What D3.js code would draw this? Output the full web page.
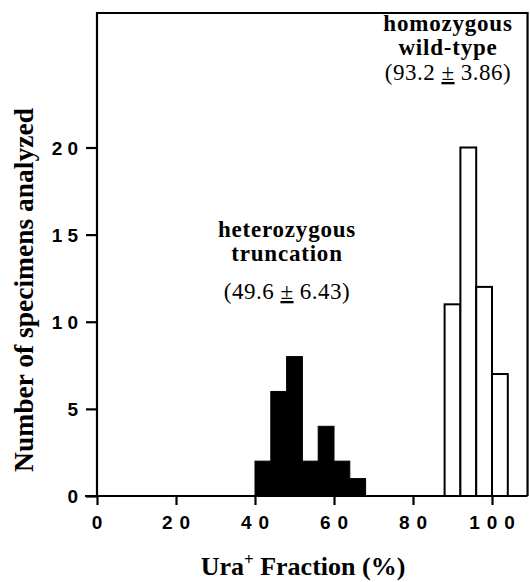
<!DOCTYPE html>
<html><head><meta charset="utf-8">
<script src="https://cdn.jsdelivr.net/npm/d3@7"></script>
<style>body{margin:0;background:#fff}</style>
</head><body>
<script>
// Data
const binWidth = 4;
const truncBins = [40, 44, 48, 52, 56, 60, 64];
const truncCounts = [2, 6, 8, 2, 4, 2, 1];
const wildBins = [88, 92, 96, 100];
const wildCounts = [11, 20, 12, 7];
const xTicks = [0, 20, 40, 60, 80, 100];
const yTicks = [0, 5, 10, 15, 20];

const W = 530, H = 582;
const svg = d3.select("body").append("svg").attr("width", W).attr("height", H);

const x = d3.scaleLinear().domain([0, 100]).range([97, 492]);
const y = d3.scaleLinear().domain([0, 20]).range([496, 147.5]);
const xMax = 109, yMax = y.invert(13);

const serif = "'Liberation Serif','Times New Roman',serif";
const sans = "'Liberation Sans',Arial,Helvetica,sans-serif";

// bars
const g = svg.append("g");
g.selectAll("rect.trunc").data(truncBins.map((b, i) => ({b, c: truncCounts[i]})))
  .enter().append("rect").attr("class", "trunc")
  .attr("x", d => x(d.b)).attr("width", d => x(d.b + binWidth) - x(d.b))
  .attr("y", d => y(d.c)).attr("height", d => y(0) - y(d.c))
  .attr("fill", "#000").attr("stroke", "#000").attr("stroke-width", 1);
g.selectAll("rect.wild").data(wildBins.map((b, i) => ({b, c: wildCounts[i]})))
  .enter().append("rect").attr("class", "wild")
  .attr("x", d => x(d.b)).attr("width", d => x(d.b + binWidth) - x(d.b))
  .attr("y", d => y(d.c)).attr("height", d => y(0) - y(d.c))
  .attr("fill", "#fff").attr("stroke", "#000").attr("stroke-width", 2);

// frame
svg.append("path")
  .attr("d", `M${x(0)},${y(0)}V${y(yMax)}H${x(xMax)}V${y(0)}`)
  .attr("fill", "none").attr("stroke", "#000").attr("stroke-width", 2.2);

// axes
const xAxis = d3.axisBottom(x).tickValues(xTicks).tickSize(9).tickFormat("");
const xg = svg.append("g").attr("transform", `translate(0,${y(0)})`).call(xAxis);
xg.select(".domain").attr("d", `M${x(0) - 12},0H${x(xMax)}`).attr("stroke-width", 2.2);
xg.selectAll(".tick line").attr("stroke-width", 2.2);

const yAxis = d3.axisLeft(y).tickValues(yTicks).tickSize(11).tickFormat("");
const yg = svg.append("g").attr("transform", `translate(${x(0)},0)`).call(yAxis);
yg.select(".domain").remove();
yg.selectAll(".tick line").attr("stroke-width", 2.2);

// tick labels
const lsx = 7, lsy = 5;
svg.selectAll("text.xt").data(xTicks).enter().append("text")
  .attr("x", d => x(d) + lsx / 2).attr("y", 528.5)
  .attr("text-anchor", "middle").attr("font-family", sans).attr("font-weight", "bold")
  .attr("font-size", 19).attr("letter-spacing", lsx).text(d => d);
svg.selectAll("text.yt").data(yTicks).enter().append("text")
  .attr("x", 78 + lsy).attr("y", d => y(d) + 7)
  .attr("text-anchor", "end").attr("font-family", sans).attr("font-weight", "bold")
  .attr("font-size", 19).attr("letter-spacing", lsy).text(d => d);

// axis titles
const xt = svg.append("text").attr("x", 303).attr("y", 575).attr("text-anchor", "middle")
  .attr("font-family", serif).attr("font-weight", "bold").attr("font-size", 26);
xt.append("tspan").text("Ura");
xt.append("tspan").attr("font-size", 17).attr("dy", -10).text("+");
xt.append("tspan").attr("dy", 10).text(" Fraction (%)");

svg.append("text").attr("transform", "translate(33,290) rotate(-90)")
  .attr("text-anchor", "middle").attr("font-family", serif).attr("font-weight", "bold")
  .attr("font-size", 27.5).text("Number of specimens analyzed");

// annotations
function annot(cx, lines, stat, yb, statY) {
  lines.forEach((t, i) => {
    svg.append("text").attr("x", cx).attr("y", yb[i]).attr("text-anchor", "middle")
      .attr("font-family", serif).attr("font-weight", "bold").attr("font-size", 23)
      .attr("letter-spacing", 0.8).text(t);
  });
  const s = svg.append("text").attr("x", cx).attr("y", statY).attr("text-anchor", "middle")
    .attr("font-family", serif).attr("font-size", 23).attr("letter-spacing", 0.5);
  s.append("tspan").text(`(${stat[0]} `);
  s.append("tspan").attr("text-decoration", "underline").text("±");
  s.append("tspan").text(` ${stat[1]})`);
}
annot(287, ["heterozygous", "truncation"], ["49.6", "6.43"], [237, 261], 299);
annot(448, ["homozygous", "wild-type"], ["93.2", "3.86"], [31, 55], 80);
</script>
</body></html>
